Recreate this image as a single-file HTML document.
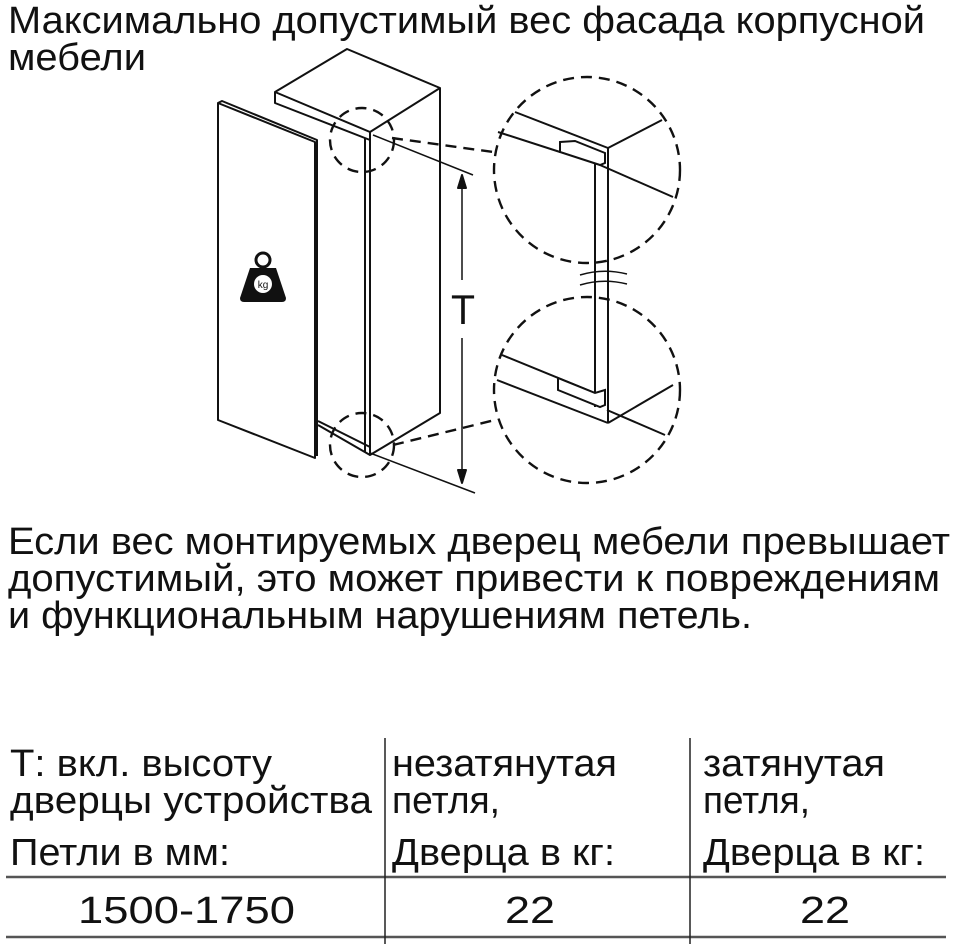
<!DOCTYPE html>
<html><head><meta charset="utf-8"><style>html,body{margin:0;padding:0;background:#fff}svg{display:block}</style></head>
<body>
<svg width="958" height="944" viewBox="0 0 958 944" xmlns="http://www.w3.org/2000/svg" font-family="Liberation Sans, Arial, sans-serif" fill="#111">
<g font-size="38">
<text x="8" y="33" textLength="917" lengthAdjust="spacingAndGlyphs">Максимально допустимый вес фасада корпусной</text>
<text x="8" y="70" textLength="138" lengthAdjust="spacingAndGlyphs">мебели</text>
<text x="8" y="554" textLength="942" lengthAdjust="spacingAndGlyphs">Если вес монтируемых дверец мебели превышает</text>
<text x="8" y="591" textLength="932" lengthAdjust="spacingAndGlyphs">допустимый, это может привести к повреждениям</text>
<text x="8" y="628" textLength="744" lengthAdjust="spacingAndGlyphs">и функциональным нарушениям петель.</text>
<text x="10" y="776" textLength="262" lengthAdjust="spacingAndGlyphs">Т: вкл. высоту</text>
<text x="10" y="813" textLength="362" lengthAdjust="spacingAndGlyphs">дверцы устройства</text>
<text x="10" y="865" textLength="220" lengthAdjust="spacingAndGlyphs">Петли в мм:</text>
<text x="392" y="776" textLength="225" lengthAdjust="spacingAndGlyphs">незатянутая</text>
<text x="392" y="813" textLength="108" lengthAdjust="spacingAndGlyphs">петля,</text>
<text x="392" y="865" textLength="223" lengthAdjust="spacingAndGlyphs">Дверца в кг:</text>
<text x="703" y="776" textLength="182" lengthAdjust="spacingAndGlyphs">затянутая</text>
<text x="703" y="813" textLength="107" lengthAdjust="spacingAndGlyphs">петля,</text>
<text x="703" y="865" textLength="222" lengthAdjust="spacingAndGlyphs">Дверца в кг:</text>
<text x="78" y="923" textLength="217" lengthAdjust="spacingAndGlyphs">1500-1750</text>
<text x="505" y="923" textLength="50" lengthAdjust="spacingAndGlyphs">22</text>
<text x="800" y="923" textLength="50" lengthAdjust="spacingAndGlyphs">22</text>
</g>
<g stroke="#222" fill="none">
<line x1="6" y1="877" x2="946" y2="877" stroke-width="2.5" stroke="#555"/>
<line x1="6" y1="937" x2="946" y2="937" stroke-width="2.5" stroke="#555"/>
<line x1="385" y1="738" x2="385" y2="944" stroke-width="1.5"/>
<line x1="690" y1="738" x2="690" y2="944" stroke-width="1.5"/>
</g>
<g stroke="#111" stroke-width="2" fill="none" stroke-linejoin="round">
<polygon points="275,92 347,49 440,88 370,132" fill="#fff"/>
<polyline points="440,88 440,413 370,455 370,132"/>
<polyline points="275,92 275,103 370,140"/>
<line x1="318" y1="425" x2="370" y2="455"/>
<line x1="318" y1="421" x2="370" y2="447"/>
<line x1="365" y1="138" x2="365" y2="452"/>
<polygon points="218,103 315,142 315,458 218,420" fill="#fff"/>
<polyline points="218,103 222,101 317,140 317,456"/>
<line x1="373" y1="135" x2="473" y2="175" stroke-width="1.5"/>
<line x1="370" y1="453" x2="475" y2="493" stroke-width="1.5"/>
<line x1="462" y1="178" x2="462" y2="280" stroke-width="1.5"/>
<line x1="462" y1="338" x2="462" y2="480" stroke-width="1.5"/>
<polygon points="462,175 458,188 466,188" fill="#111"/>
<polygon points="462,483 458,470 466,470" fill="#111"/>
</g>
<text x="451" y="324" font-size="42" textLength="24" lengthAdjust="spacingAndGlyphs">T</text>
<circle cx="263" cy="260" r="7" fill="none" stroke="#111" stroke-width="3"/>
<path d="M250,268 L276,268 L286,298 Q286,302 282,302 L244,302 Q240,302 240,298 Z" fill="#111"/>
<circle cx="263" cy="284" r="9" fill="#fff"/>
<text x="263" y="288" font-size="10" text-anchor="middle" fill="#111">kg</text>
<g stroke="#111" stroke-width="2.4" fill="none" stroke-dasharray="11,7">
<circle cx="362" cy="140" r="32"/>
<circle cx="362" cy="445" r="32"/>
<circle cx="587" cy="170" r="93"/>
<circle cx="587" cy="390" r="93"/>
<line x1="392" y1="138" x2="493" y2="152"/>
<line x1="393" y1="445" x2="495" y2="420"/>
</g>
<g stroke="#111" stroke-width="2" fill="none">
<line x1="515" y1="112" x2="608" y2="148"/>
<line x1="608" y1="148" x2="662" y2="120"/>
<line x1="498" y1="132" x2="560" y2="152"/>
<polygon points="560,142 575,141 605,153 605,163 600,165 560,152" fill="#fff"/>
<line x1="595" y1="163" x2="595" y2="407"/>
<line x1="608" y1="148" x2="608" y2="423"/>
<line x1="600" y1="165" x2="673" y2="197"/>
<line x1="502" y1="355" x2="595" y2="393"/>
<line x1="497" y1="380" x2="608" y2="423"/>
<line x1="608" y1="423" x2="673" y2="385"/>
<line x1="607" y1="410" x2="665" y2="435"/>
<polygon points="558,378 595,393 605,390 605,405 600,407 558,390" fill="#fff"/>
<path d="M580,275 Q603,268 627,274" stroke-width="1.5"/>
<path d="M580,285 Q603,278 627,284" stroke-width="1.5"/>
</g>
</svg>
</body></html>
